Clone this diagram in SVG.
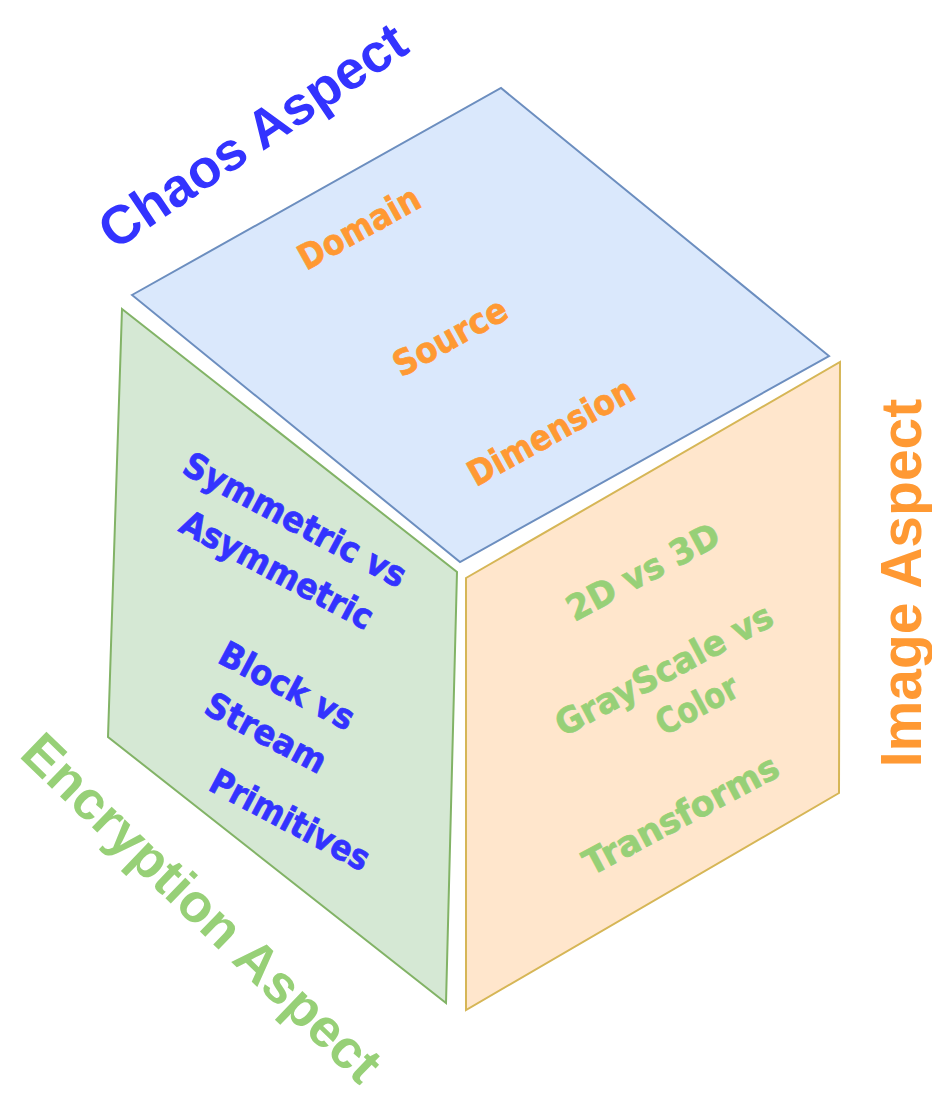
<svg xmlns="http://www.w3.org/2000/svg" width="932" height="1095" viewBox="0 0 932 1095">
<style>
.face{stroke-width:2;stroke-linejoin:miter}
.top{fill:#dae8fc;stroke:#6c8ebf}
.left{fill:#d5e8d4;stroke:#82b366}
.right{fill:#ffe6cc;stroke:#d6b656}
.lbl{font-family:"Liberation Sans",Arial,sans-serif;font-weight:bold;text-anchor:middle}
.in{font-family:"DejaVu Sans",sans-serif;font-weight:bold;text-anchor:middle;dominant-baseline:central;font-size:35px;stroke-width:0.7px}
.or{fill:#ff9933}
.bl{fill:#3333ff}
.gr{fill:#97d077}
.in.or{stroke:#ff9933}
.in.bl{stroke:#3333ff}
.in.gr{stroke:#97d077}
</style>
<rect width="932" height="1095" fill="#ffffff"/>
<g id="top-face">
<polygon class="face top" points="132,295 501,88 829,356 460,562"/>
<text class="in or" transform="translate(359,228) rotate(-29)" textLength="134" lengthAdjust="spacingAndGlyphs">Domain</text>
<text class="in or" transform="translate(450,337) rotate(-29)" textLength="125" lengthAdjust="spacingAndGlyphs">Source</text>
<text class="in or" transform="translate(551,432) rotate(-29)" textLength="185" lengthAdjust="spacingAndGlyphs">Dimension</text>
</g>
<g id="left-face">
<polygon class="face left" points="122,309 457,572 446,1003 108,737"/>
<text class="in bl" transform="translate(295,520) rotate(28)" textLength="247" lengthAdjust="spacingAndGlyphs">Symmetric vs</text>
<text class="in bl" transform="translate(277,570) rotate(28)" textLength="213" lengthAdjust="spacingAndGlyphs">Asymmetric</text>
<text class="in bl" transform="translate(287,686) rotate(28)" textLength="148" lengthAdjust="spacingAndGlyphs">Block vs</text>
<text class="in bl" transform="translate(266,733) rotate(28)" textLength="132" lengthAdjust="spacingAndGlyphs">Stream</text>
<text class="in bl" transform="translate(290,820) rotate(28)" textLength="176" lengthAdjust="spacingAndGlyphs">Primitives</text>
</g>
<g id="right-face">
<polygon class="face right" points="466,578 840,362 839,793 466,1010"/>
<text class="in gr" transform="translate(643,572) rotate(-28)" textLength="168" lengthAdjust="spacingAndGlyphs">2D vs 3D</text>
<text class="in gr" transform="translate(664,670) rotate(-28)" textLength="241" lengthAdjust="spacingAndGlyphs">GrayScale vs</text>
<text class="in gr" transform="translate(697,705) rotate(-28)" textLength="88" lengthAdjust="spacingAndGlyphs">Color</text>
<text class="in gr" transform="translate(681,815) rotate(-28)" textLength="216" lengthAdjust="spacingAndGlyphs">Transforms</text>
</g>
<g id="chaos-aspect">
<text class="lbl bl" font-size="54" transform="translate(263,151) rotate(-34)">Chaos Aspect</text>
</g>
<g id="image-aspect">
<text class="lbl or" font-size="57" transform="translate(921,583) rotate(-90)">Image Aspect</text>
</g>
<g id="encryption-aspect">
<text class="lbl gr" font-size="54" transform="translate(189,921) rotate(44)">Encryption Aspect</text>
</g>
<g id="connectors"></g>
</svg>
